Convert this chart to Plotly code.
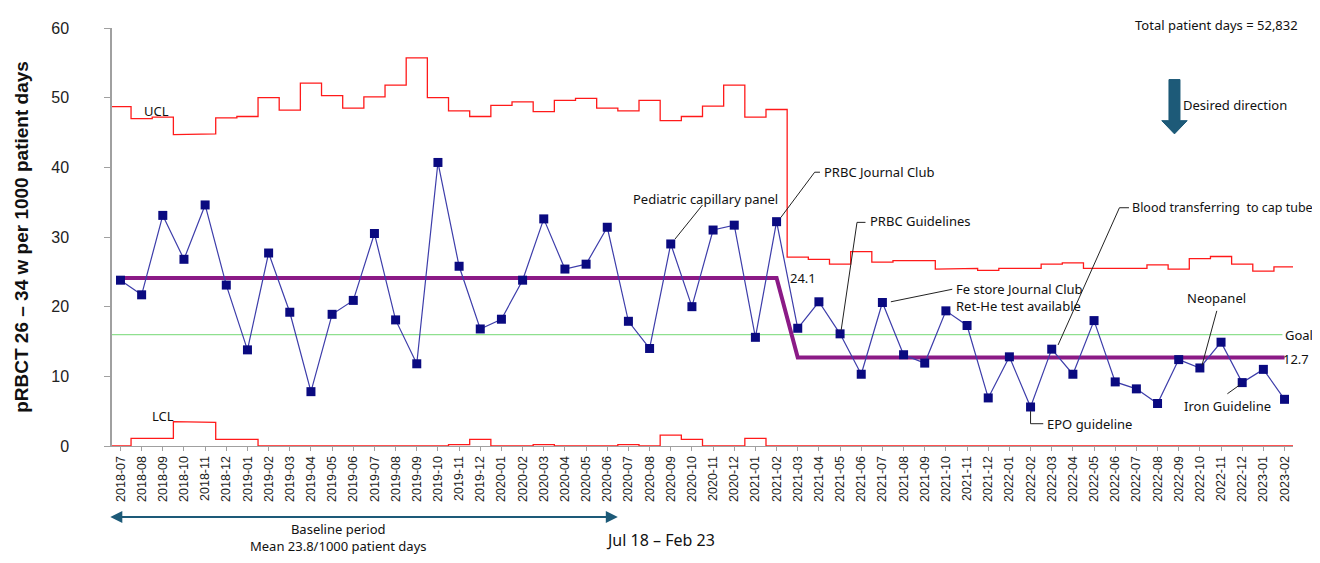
import plotly.graph_objects as go

months = [
    "2018-07", "2018-08", "2018-09", "2018-10", "2018-11", "2018-12",
    "2019-01", "2019-02", "2019-03", "2019-04", "2019-05", "2019-06",
    "2019-07", "2019-08", "2019-09", "2019-10", "2019-11", "2019-12",
    "2020-01", "2020-02", "2020-03", "2020-04", "2020-05", "2020-06",
    "2020-07", "2020-08", "2020-09", "2020-10", "2020-11", "2020-12",
    "2021-01", "2021-02", "2021-03", "2021-04", "2021-05", "2021-06",
    "2021-07", "2021-08", "2021-09", "2021-10", "2021-11", "2021-12",
    "2022-01", "2022-02", "2022-03", "2022-04", "2022-05", "2022-06",
    "2022-07", "2022-08", "2022-09", "2022-10", "2022-11", "2022-12",
    "2023-01", "2023-02",
]

rate = [
    23.8, 21.7, 33.1, 26.8, 34.6, 23.1, 13.8, 27.7, 19.2, 7.8, 18.9, 20.9,
    30.5, 18.1, 11.8, 40.7, 25.8, 16.8, 18.2, 23.8, 32.6, 25.4, 26.1, 31.4,
    17.9, 14.0, 29.0, 20.0, 31.0, 31.7, 15.6, 32.2, 16.9, 20.7, 16.1, 10.3,
    20.6, 13.1, 11.9, 19.4, 17.3, 6.9, 12.8, 5.6, 13.9, 10.3, 18.0, 9.2,
    8.2, 6.1, 12.4, 11.2, 14.9, 9.1, 11.0, 6.7,
]

ucl = [
    48.7, 47.0, 47.2, 44.7, 44.8, 47.1, 47.3, 50.0, 48.2, 52.1, 50.3, 48.5,
    50.1, 51.8, 55.7, 50.0, 48.1, 47.3, 48.9, 49.4, 48.0, 49.6, 49.9, 48.5,
    48.1, 49.6, 46.7, 47.3, 48.8, 51.8, 47.2, 48.3, 27.1, 26.8, 26.1, 27.9,
    26.4, 26.6, 26.6, 25.4, 25.5, 25.2, 25.5, 25.5, 26.1, 26.3, 25.5, 25.5,
    25.5, 26.0, 25.4, 26.9, 27.2, 26.1, 25.1, 25.7,
]

lcl = [
    0.0, 1.1, 1.1, 3.5, 3.4, 0.95, 0.95, 0, 0, 0, 0, 0,
    0, 0, 0, 0, 0.2, 0.95, 0, 0, 0.2, 0, 0, 0,
    0.2, 0, 1.55, 0.95, 0, 0, 1.1, 0, 0, 0, 0, 0,
    0, 0, 0, 0, 0, 0, 0, 0, 0, 0, 0, 0,
    0, 0, 0, 0, 0, 0, 0, 0,
]

center_baseline = 24.1
center_new = 12.7
n_baseline = 32  # 2018-07 .. 2021-02
goal = 16.0

idx = list(range(len(months)))
center = [center_baseline if i < n_baseline else center_new for i in idx]


def steps(vals):
    xs, ys = [], []
    for i, v in enumerate(vals):
        xs += [i - 0.5, i + 0.5]
        ys += [v, v]
    return xs, ys


ux, uy = steps(ucl)
lx, ly = steps(lcl)

ANN_FONT = "Noto Sans"
TICK_FONT = "Liberation Sans"
TEAL = "#1d5a78"

fig = go.Figure()

fig.add_trace(go.Scatter(x=ux, y=uy, mode="lines",
                         line=dict(color="#ff1a1a", width=1.3), hoverinfo="skip"))
fig.add_trace(go.Scatter(x=lx, y=ly, mode="lines",
                         line=dict(color="#ff1a1a", width=1.3), hoverinfo="skip"))
fig.add_trace(go.Scatter(x=[-0.6, 54.9], y=[goal, goal], mode="lines",
                         line=dict(color="#8fe08f", width=1.2), hoverinfo="skip"))
fig.add_trace(go.Scatter(x=idx, y=center, mode="lines",
                         line=dict(color="#8b1a86", width=4), hoverinfo="skip"))
fig.add_trace(go.Scatter(x=idx, y=rate, mode="lines+markers",
                         line=dict(color="#3d3daa", width=1.2),
                         marker=dict(symbol="square", size=9, color="#0a0a80",
                                     line=dict(width=0))))

# leader lines (data coordinates)
leaders = [
    [(27.5, 34.6), (26.2, 29.7)],
    [(33.05, 39.3), (32.8, 39.3), (31.2, 32.8)],
    [(35.2, 32.1), (34.8, 32.1), (34.05, 16.6)],
    [(39.3, 22.5), (36.4, 20.7)],
    [(47.65, 34.2), (47.2, 34.2), (44.3, 14.5)],
    [(43.0, 5.0), (43.0, 3.2), (43.6, 3.2)],
    [(51.8, 19.4), (51.1, 11.6)],
    [(52.3, 7.5), (52.9, 8.8)],
]
for pts in leaders:
    path = "M " + " L ".join(f"{x},{y}" for x, y in pts)
    fig.add_shape(type="path", path=path, xref="x", yref="y",
                  line=dict(color="#222222", width=1))

# Desired direction arrow
fig.add_shape(type="path", xref="x", yref="y",
              path="M 49.54,52.6 L 50.06,52.6 L 50.06,46.7 L 50.4,46.7 L 49.8,44.8 "
                   "L 49.2,46.7 L 49.54,46.7 Z",
              fillcolor=TEAL, line=dict(color=TEAL, width=1))

def ann(text, x, y, anchor="left", size=13, xref="x", yref="y", **kw):
    fig.add_annotation(text=text, x=x, y=y, xref=xref, yref=yref, showarrow=False,
                       xanchor=anchor, yanchor="middle",
                       font=dict(family=ANN_FONT, size=size, color="#111111"), **kw)

ann("UCL", 1.0, 48.1)
ann("LCL", 1.4, 4.3)
ann("Pediatric capillary panel", 24.1, 35.5)
ann("PRBC Journal Club", 33.15, 39.3)
ann("PRBC Guidelines", 35.3, 32.3)
ann("Fe store Journal Club", 39.4, 22.6)
ann("Ret-He test available", 39.4, 20.1)
ann("Blood transferring  to cap tube", 47.7, 34.2, size=12.5)
ann("EPO guideline", 43.7, 3.1)
ann("Neopanel", 51.8, 21.3, anchor="center")
ann("Iron Guideline", 52.3, 5.7, anchor="center")
ann("24.1", 31.55, 24.1)
ann("12.7", 54.85, 12.5)
ann("Goal", 54.95, 16.0)
ann("Desired direction", 50.1, 48.9)
ann("Total patient days = 52,832", 1.006, 1.007, anchor="right", xref="paper", yref="paper")
ann("Baseline period<br>Mean 23.8/1000 patient days", 10.3, -0.218, anchor="center",
    yref="paper")
ann("Jul 18 \u2013 Feb 23", 25.5, -0.226, anchor="center", size=16, yref="paper")

# Baseline double-headed arrow
fig.add_annotation(x=23.5, y=-0.17, xref="x", yref="paper", ax=-0.55, ay=0,
                   axref="x", ayref="pixel", showarrow=True, arrowhead=2,
                   startarrowhead=2, arrowside="end+start",
                   arrowsize=1.2, startarrowsize=1.2, arrowwidth=2,
                   arrowcolor=TEAL, text="")

fig.update_layout(
    width=1304, height=547,
    margin=dict(l=104, r=19, t=15, b=109),
    paper_bgcolor="white", plot_bgcolor="white",
    showlegend=False,
)
fig.update_xaxes(
    range=[-0.4, 55.4], tickmode="array", tickvals=idx, ticktext=months,
    tickangle=-90, tickfont=dict(family=TICK_FONT, size=12.5, color="#222222"),
    showgrid=False, zeroline=False, showline=True, linecolor="#a0a0a0", linewidth=1,
    ticks="outside", ticklen=4, tickcolor="#a0a0a0",
)
fig.update_yaxes(
    range=[0, 60], tickvals=[0, 10, 20, 30, 40, 50, 60],
    tickfont=dict(family=TICK_FONT, size=16, color="#222222"),
    ticklabelstandoff=32,
    showgrid=False, zeroline=False, showline=True, linecolor="#a0a0a0", linewidth=1.5,
    ticks="outside", ticklen=6, tickcolor="#a0a0a0",
    title=dict(text="<b>pRBCT 26 \u2013 34 w per 1000 patient days</b>",
               font=dict(family=TICK_FONT, size=19, color="#111111"), standoff=18),
)

fig.write_html("out.html")
